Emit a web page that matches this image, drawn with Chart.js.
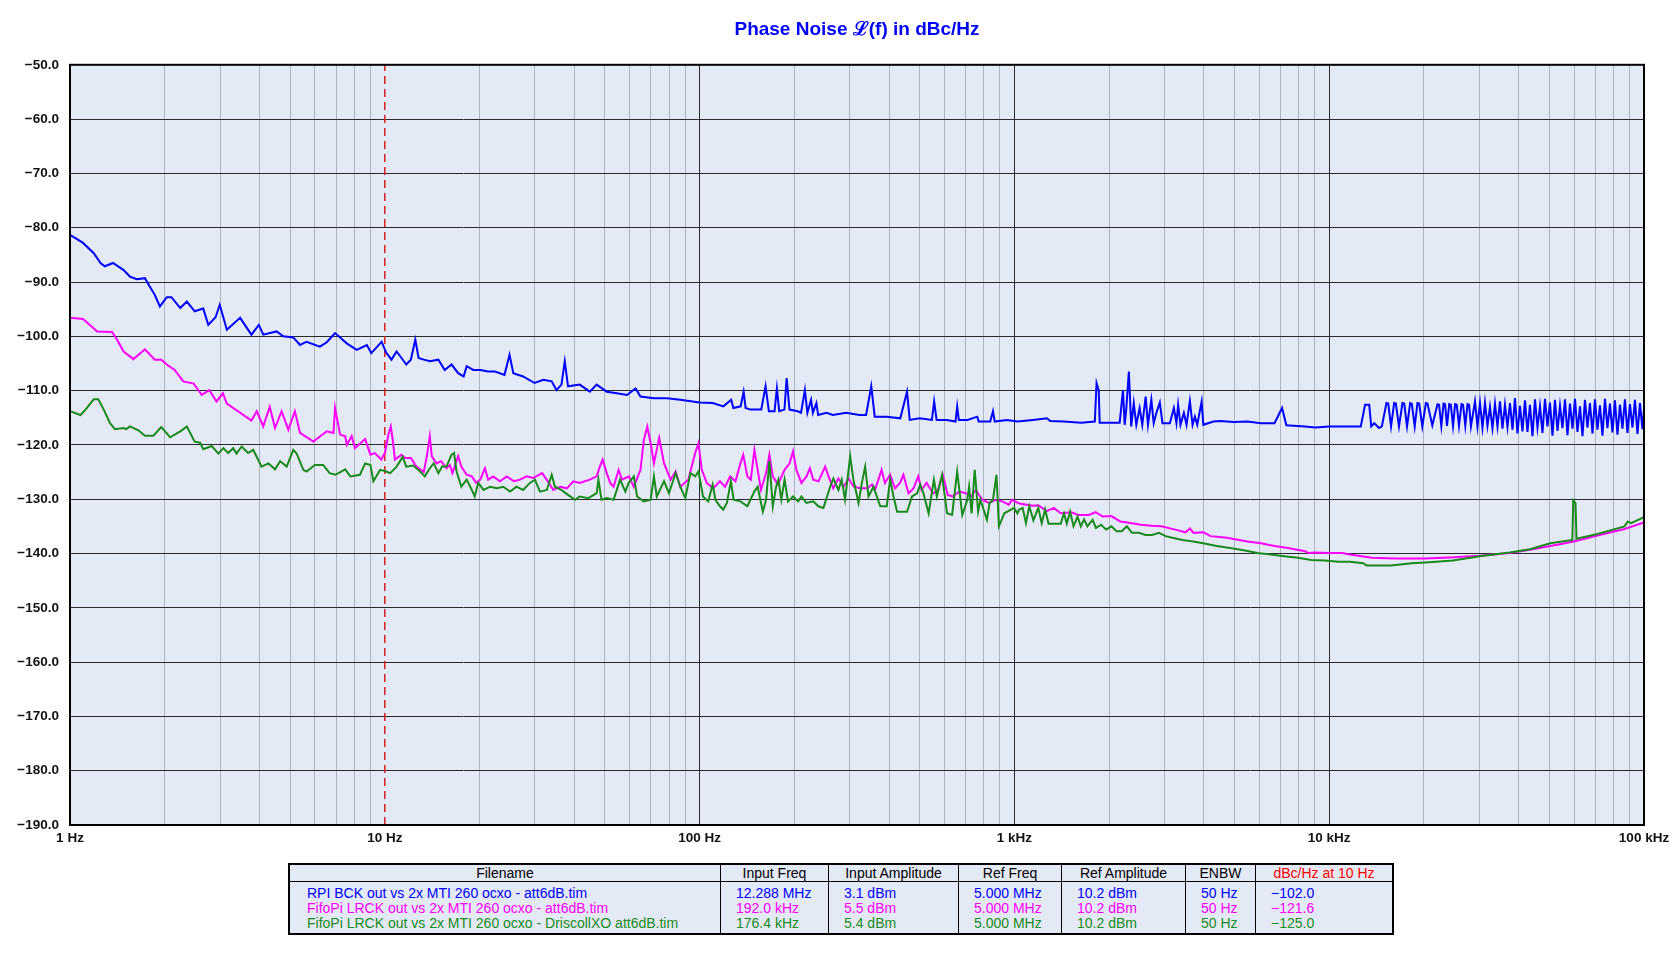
<!DOCTYPE html>
<html>
<head>
<meta charset="utf-8">
<title>Phase Noise</title>
<script src="https://cdn.jsdelivr.net/npm/chart.js@4.4.1/dist/chart.umd.min.js"></script>
<style>
  html, body { margin: 0; padding: 0; background: #fff; }
  #wrap { position: relative; width: 1680px; height: 967px; overflow: hidden; }
  #chart { position: absolute; left: 0; top: 0; }
  #tbl {
    position: absolute; left: 288px; top: 863px; width: 1102px;
    border: 2px solid #000; border-collapse: separate; border-spacing: 0;
    table-layout: fixed; background: rgb(228,233,246);
    font: 14px "Liberation Sans", Arial, sans-serif;
  }
  #tbl th { font-weight: normal; height: 16px; line-height: 16px; padding: 0; text-align: center;
            border-bottom: 1px solid #000; white-space: nowrap; }
  #tbl td { line-height: 15px; padding: 0 0 0 15px; white-space: nowrap; }
  #tbl th + th, #tbl td + td { border-left: 1px solid #000; }
  #tbl td:first-child { padding-left: 17px; }
  #tbl tr.first td { padding-top: 4px; }
  #tbl tr.last td { padding-bottom: 2px; }
</style>
</head>
<body>
<div id="wrap">
  <canvas id="chart" width="1680" height="967"></canvas>
  <table id="tbl"></table>
</div>
<script>
// ---- data (Hz, dBc/Hz) ----
var rpiFreq = [1,1.1,1.19,1.25,1.29,1.37,1.48,1.55,1.63,1.73,1.79,1.86,1.93,2.03,2.1,2.24,2.35,2.49,2.65,2.75,2.9,2.99,3.15,3.47,3.77,3.98,4.11,4.53,4.76,5.12,5.38,5.64,6.22,6.54,6.95,7.57,8.14,8.77,9.06,9.77,
  10.1,10.5,10.9,11.3,11.7,12.1,12.5,12.8,13.3,13.9,14.8,15.5,16.3,17.1,17.8,18.2,19.1,20.1,21.3,22.4,24,24.9,25.6,27.5,29.9,31.9,33.9,35.1,36.4,37.3,38.2,41.6,44.8,47.1,50.7,54.6,58.8,62.6,64.9,71.6,78.9,86.8,
  100,110,119,126,128,135,138,140,145,157,162,166,173,176,179,186,189,193,205,210,216,220,226,229,235,238,253,265,292,322,338,351,360,393,434,456,465,500,547,556,566,609,650,658,666,710,762,770,838,855,866,947,
  1022,1146,1268,1300,1437,1629,1801,1824,1853,1866,2160,2213,2240,2266,2310,2350,2394,2439,2499,2548,2612,2656,2723,2770,2826,2897,2954,3118,3210,3272,3312,3370,3454,3522,3609,3681,3744,3809,3934,3982,4287,4506,4978,5497,6070,6702,7083,7311,8373,9023,
  10020,11640,12600,13000,13400,13600,13900,14400,14700,15200,15400,15720,16080,16280,16660,17090,17310,17670,18080,18300,18690,19070,19310,19760,20280,20520,21260,
  22080,22340,22710,23080,23340,23670,24060,24340,24740,25120,25420,25840,26320,26620,27060,27500,27820,28200,
  29050,29580,30130,30680,31250,31830,32410,33010,33620,34240,34870,35510,36170,36840,37520,38210,38920,39640,40360,41110,41870,42640,43430,44230,45050,45880,46720,47590,48470,49360,
  50270,51200,52140,53110,54090,55080,56100,57140,58190,59260,60360,61470,62600,63760,64930,66130,67350,68600,69860,71150,72460,73790,75160,76540,77960,79390,80850,82350,83870,85420,86990,88600,90240,91900,93600,95330,97070,98880,100000];
var rpiVal = [-81.3,-82.8,-84.7,-86.5,-87.1,-86.5,-87.8,-89.0,-89.5,-89.3,-90.8,-92.4,-94.5,-92.8,-92.8,-94.8,-93.6,-95.4,-94.9,-97.9,-96.5,-94.2,-98.8,-96.6,-99.7,-97.9,-99.7,-99.1,-100.0,-100.2,-101.6,-101.0,-101.9,-101.1,-99.4,-101.3,-102.5,-101.6,-103.1,-101.0,
  -103.0,-104.3,-102.8,-104.0,-105.2,-104.3,-100.6,-104.0,-104.3,-104.6,-104.3,-106.2,-105.2,-106.8,-107.4,-105.5,-106.2,-106.2,-106.5,-106.5,-107.1,-103.4,-106.8,-107.4,-108.6,-108.0,-108.3,-109.9,-108.9,-104.6,-109.2,-108.9,-110.2,-108.9,-110.2,-110.5,-110.8,-109.6,-111.1,-111.4,-111.4,-111.7,
  -112.2,-112.3,-112.9,-111.7,-113.2,-112.9,-110.2,-113.2,-113.5,-113.5,-109.2,-113.8,-113.8,-109.6,-113.8,-113.5,-107.7,-113.5,-113.8,-114.1,-109.9,-114.1,-111.7,-114.1,-112.3,-114.5,-114.1,-114.5,-114.1,-114.5,-114.5,-109.2,-114.8,-114.8,-115.1,-110.2,-115.4,-115.1,-115.4,-112.0,-115.4,-115.4,-115.7,-112.9,-115.4,-115.4,-114.8,-115.7,-115.7,-113.8,-115.7,-115.4,
  -115.7,-115.4,-115.1,-115.6,-115.7,-115.9,-115.7,-108.6,-109.9,-115.9,-115.9,-109.9,-116.3,-113.5,-106.5,-116.6,-112.3,-116.3,-113.2,-116.3,-111.1,-116.3,-111.7,-116.0,-114.1,-112.2,-116.0,-116.0,-113.2,-116.0,-112.6,-116.3,-114.1,-116.3,-111.9,-116.3,-114.8,-116.3,-112.0,-116.3,-115.7,-115.6,-115.8,-115.7,-116.0,-116.0,-113.2,-116.4,-116.6,-116.8,
  -116.6,-116.6,-116.6,-112.6,-112.6,-116.6,-116.0,-116.9,-116.6,-112.3,-112.4,-116.6,-112.3,-112.4,-116.6,-112.3,-112.4,-116.6,-112.3,-112.4,-116.6,-112.3,-112.4,-116.6,-112.3,-112.4,-116.4,
  -112.5,-112.6,-116.5,-112.4,-112.5,-116.5,-112.5,-112.6,-116.5,-112.5,-112.6,-116.5,-112.5,-112.6,-116.5,-112.5,-112.6,-116.6,
  -112.0,-116.6,-112.3,-116.8,-112.2,-116.5,-113.0,-116.9,-112.4,-116.6,-112.0,-117.0,-112.6,-116.7,-112.3,-117.2,-111.4,-117.9,-112.8,-117.5,-111.8,-117.6,-112.6,-118.4,-111.6,-116.8,-112.9,-117.8,-111.5,-116.6,
  -112.2,-118.3,-111.7,-117.4,-112.8,-116.9,-111.6,-118.2,-112.4,-117.0,-111.5,-117.6,-112.9,-118.4,-111.7,-116.8,-112.3,-117.9,-111.6,-117.2,-112.7,-118.3,-111.5,-116.9,-112.4,-117.7,-111.8,-118.1,-112.6,-117.0,-111.6,-117.8,-112.5,-116.8,-111.7,-118.0,-112.3,-117.1,-113.5];

var lrckFreq = [1,1.1,1.22,1.36,1.41,1.48,1.59,1.73,1.86,1.95,2.03,2.15,2.29,2.47,2.62,2.77,2.92,3.06,3.15,3.77,3.92,4.11,4.31,4.48,4.7,4.94,5.18,5.38,5.93,6.54,6.87,6.95,7.21,7.49,7.57,7.85,8.04,8.66,9,9.3,9.75,
  10,10.27,10.45,10.6,10.77,11.3,11.6,12.1,12.6,13.3,13.6,13.9,14.1,14.6,15.1,15.7,16.1,16.4,17.1,17.5,18.2,18.9,19.5,20.1,20.8,21.3,22.1,23.2,24.4,25.7,26.9,28.2,29.6,31.6,32.7,34.3,36.1,37.9,39.7,41.6,44.8,47.1,48.2,49.2,
  50.7,52,53.3,55.3,56.7,59.6,61.8,64.9,66.5,68.2,69.9,71.6,74.4,77.1,80.9,83.9,86.8,92.1,96.8,99.2,101.6,105.4,110.5,116,120.5,125,130,134.8,137.6,141.8,145.4,149.3,152.9,156.7,162.6,166.6,170.8,177.3,186.2,193.2,198,
  203,210.6,218.6,224,229.6,238.6,250.5,256.8,265.8,276,286.6,297.6,309,324.5,340.5,353,360.7,378.5,388,403,417.5,433,444,461,478,495,507,526,552,572,592,614,637,668,701,728,754,791,830,871,915,960,983,
  1036,1146,1191,1268,1334,1404,1516,1595,1721,1812,1908,2034,2168,2340,2523,2724,2930,3244,3497,3610,3706,3993,4196,4732,5497,6070,6702,7400,8380,8590,9030,9970,
  10990,11640,13660,16170,20120,25000,30000,37500,43400,50400,59800,71200,86700,100000];
var lrckVal = [-96.6,-96.8,-99.1,-99.2,-100.6,-102.8,-104.2,-102.4,-104.3,-104.3,-105.2,-106.2,-108.3,-108.7,-110.8,-109.9,-112.0,-110.5,-112.4,-115.5,-113.8,-116.6,-113.0,-116.9,-113.8,-117.2,-113.8,-117.8,-119.4,-117.5,-117.8,-113.2,-118.1,-118.4,-120.0,-118.4,-120.6,-118.9,-121.8,-121.5,-122.7,
  -121.5,-118.1,-116.6,-119.1,-122.7,-121.8,-122.4,-122.4,-124.0,-125.0,-122.1,-118.4,-122.1,-123.4,-123.0,-124.3,-123.7,-125.2,-122.1,-124.0,-125.5,-125.8,-127.0,-126.4,-124.3,-126.4,-125.8,-126.7,-125.8,-126.7,-126.4,-125.8,-126.1,-125.2,-126.4,-128.3,-127.7,-128.0,-126.7,-127.0,-126.4,-125.8,-124.0,-122.7,
  -125.2,-127.0,-127.7,-124.6,-126.4,-125.8,-127.7,-124.6,-119.1,-116.6,-119.7,-123.4,-118.7,-123.4,-126.4,-124.9,-127.7,-126.4,-121.5,-119.7,-124.6,-127.0,-128.0,-126.7,-127.7,-125.8,-126.7,-123.4,-121.8,-125.8,-126.4,-120.9,-124.6,-128.3,-125.2,-121.8,-125.8,-127.3,-124.6,-123.4,-121.2,
  -124.6,-127.0,-125.8,-124.3,-126.4,-126.7,-124.0,-125.8,-128.0,-126.2,-127.7,-126.2,-127.7,-128.0,-128.0,-127.3,-128.3,-124.6,-127.0,-125.5,-128.0,-127.0,-125.5,-128.9,-128.0,-125.8,-128.3,-127.0,-128.9,-128.3,-125.5,-129.2,-129.5,-128.6,-128.9,-129.5,-128.3,-130.1,-130.7,-130.1,-130.4,-131.0,-130.1,
  -130.8,-131.2,-131.1,-132.2,-131.6,-132.6,-132.4,-132.9,-132.9,-132.4,-133.2,-133.1,-134.1,-134.4,-134.7,-134.9,-135.0,-135.6,-136.1,-135.4,-136.2,-136.1,-136.8,-137.1,-137.8,-138.1,-138.6,-139.0,-139.6,-139.9,-139.8,-139.9,
  -139.9,-140.2,-140.8,-140.9,-140.9,-140.7,-140.4,-139.9,-139.3,-138.6,-137.8,-136.7,-135.5,-134.3];

var xoFreq = [1,1.08,1.12,1.19,1.23,1.28,1.34,1.39,1.48,1.51,1.55,1.65,1.73,1.84,1.95,2.08,2.24,2.35,2.49,2.59,2.65,2.82,2.96,3.07,3.18,3.3,3.38,3.51,3.68,3.82,4.06,4.27,4.48,4.65,4.88,5.12,5.25,5.51,5.64,6,6.37,6.68,6.97,7.49,7.77,8.34,8.66,9,9.2,9.66,
  10,10.4,10.9,11.4,11.7,12.3,12.95,13.4,13.9,14.3,14.8,15.2,15.7,16.3,16.6,16.9,17.5,18.2,18.9,19.3,19.8,20.6,21.6,22.7,23.8,25,26.2,27.5,28.9,30,31.1,32.7,33.9,34.7,36.4,38.2,40.2,41.6,44.3,47.1,47.7,48.8,
  50.7,53.3,55.9,58.1,59.5,61.8,63.3,66.5,69.9,71.6,73.1,77.1,79.9,83.9,86.8,90.1,93.5,96.8,99.2,102.5,106.5,110,112.3,116,118.9,122.1,125.7,128.3,134.8,141.8,149.2,152.9,158.8,162.6,166.6,170.8,175,178,181.8,186.2,190.9,198.1,
  205.6,210.6,218.6,229.6,238.4,247.4,259.8,266,276,282.7,289.7,300.8,308,319.8,327.7,335.7,344,357,361,375,393,403,413,424,456,473,491,502,514,534,555,567,589,611,634,658,683,709,718,731,748,767,780,818,834,855,877,893,929,975,998,
  1022,1036,1062,1088,1115,1149,1191,1221,1252,1284,1404,1437,1467,1503,1541,1587,1625,1665,1706,1772,1815,1885,1957,2033,2111,2192,2276,2363,2487,2610,2739,2880,3023,3175,3423,3695,3977,4390,4846,5352,5906,6520,7199,7949,8776,9690,
  10700,11640,12820,13150,15710,18290,20820,24730,30030,37450,43440,50380,59200,59600,60600,61030,71200,86700,88800,90980,100000];
var xoVal = [-113.8,-114.5,-113.5,-111.6,-111.6,-113.5,-116.0,-117.1,-116.9,-117.1,-116.6,-117.3,-118.3,-118.3,-116.7,-118.6,-117.5,-116.6,-119.4,-119.6,-120.8,-120.2,-121.6,-120.6,-121.5,-120.6,-121.6,-120.3,-121.5,-120.9,-124.0,-123.4,-124.5,-123.0,-124.0,-120.9,-121.6,-124.6,-124.9,-123.7,-123.7,-125.2,-125.5,-124.5,-125.8,-125.5,-123.4,-123.7,-126.7,-124.6,
  -124.8,-125.2,-124.0,-122.2,-124.0,-123.8,-124.9,-125.8,-124.3,-123.4,-125.2,-124.0,-124.0,-121.8,-121.5,-124.9,-127.7,-126.4,-128.3,-129.5,-127.0,-128.3,-127.7,-128.0,-127.7,-128.6,-127.7,-128.3,-127.0,-126.4,-128.6,-128.3,-125.5,-127.7,-128.3,-129.2,-130.1,-129.5,-129.8,-128.9,-126.4,-130.1,
  -129.8,-130.1,-126.4,-128.6,-127.0,-125.8,-129.5,-130.4,-130.1,-125.8,-129.5,-126.7,-128.9,-125.2,-127.7,-129.8,-125.2,-125.8,-124.9,-129.5,-130.4,-127.3,-130.1,-131.3,-131.9,-130.7,-126.7,-130.1,-130.4,-131.3,-128.6,-127.7,-132.3,-130.1,-123.0,-131.3,-127.7,-126.4,-130.1,-126.4,-130.4,-129.5,
  -130.4,-129.5,-130.7,-130.4,-131.3,-131.6,-127.7,-126.2,-128.3,-126.4,-130.1,-122.1,-126.4,-130.7,-127.0,-124.0,-129.5,-127.7,-128.6,-131.3,-131.3,-126.4,-129.5,-132.3,-132.3,-129.5,-128.9,-127.3,-128.9,-132.6,-126.4,-129.5,-125.5,-132.6,-132.9,-124.9,-132.9,-130.1,-127.7,-132.6,-124.6,-132.3,-130.1,-133.8,-130.7,-130.1,-125.5,-135.0,-132.6,-131.9,-131.6,
  -132.6,-131.9,-131.6,-134.4,-131.3,-133.9,-131.6,-134.4,-131.9,-134.5,-134.5,-132.6,-134.5,-132.3,-135.0,-133.2,-135.0,-133.7,-135.0,-133.8,-135.3,-134.7,-135.6,-135.0,-135.9,-135.9,-135.0,-136.2,-136.2,-136.6,-136.6,-136.2,-136.8,-137.1,-137.5,-137.8,-138.1,-138.6,-139.0,-139.4,-139.9,-140.2,-140.5,-140.8,-141.2,-141.3,
  -141.5,-141.5,-141.8,-142.2,-142.2,-141.8,-141.6,-141.3,-140.5,-139.8,-139.2,-138.1,-137.5,-130.2,-130.7,-137.3,-136.4,-135.0,-134.1,-134.4,-133.3];

// 10 Hz marker
var markerFreq = [10, 10];
var markerVal = [-190, -50];

// ticks
var xTickValues = [1,2,3,4,5,6,7,8,9,10,20,30,40,50,60,70,80,90,100,200,300,400,500,600,700,800,900,
  1000,2000,3000,4000,5000,6000,7000,8000,9000,10000,20000,30000,40000,50000,60000,70000,80000,90000,100000];
var xDecades = [1, 10, 100, 1000, 10000, 100000];
var xDecadeLabels = ['1 Hz', '10 Hz', '100 Hz', '1 kHz', '10 kHz', '100 kHz'];
var yTickValues = [-190,-180,-170,-160,-150,-140,-130,-120,-110,-100,-90,-80,-70,-60,-50];
var yTickLabels = ['\u2212190.0','\u2212180.0','\u2212170.0','\u2212160.0','\u2212150.0','\u2212140.0','\u2212130.0','\u2212120.0',
  '\u2212110.0','\u2212100.0','\u221290.0','\u221280.0','\u221270.0','\u221260.0','\u221250.0'];

// table
var tableHeaders = ['Filename', 'Input Freq', 'Input Amplitude', 'Ref Freq', 'Ref Amplitude', 'ENBW', 'dBc/Hz at 10 Hz'];
var fileNames = ['RPI BCK out vs 2x MTI 260 ocxo - att6dB.tim',
                 'FifoPi LRCK out vs 2x MTI 260 ocxo - att6dB.tim',
                 'FifoPi LRCK out vs 2x MTI 260 ocxo - DriscollXO att6dB.tim'];
var inputFreqs = ['12.288 MHz', '192.0 kHz', '176.4 kHz'];
var inputAmps = ['3.1 dBm', '5.5 dBm', '5.4 dBm'];
var refFreqs = ['5.000 MHz', '5.000 MHz', '5.000 MHz'];
var refAmps = ['10.2 dBm', '10.2 dBm', '10.2 dBm'];
var enbws = ['50 Hz', '50 Hz', '50 Hz'];
var at10Hz = ['\u2212102.0', '\u2212121.6', '\u2212125.0'];

var seriesColors = ['#0000ff', '#ff00ff', '#1a8a1a'];
var colWidths = [430, 108, 130, 103, 124, 70, 137];

function toPoints(fs, vs) {
  var pts = [];
  for (var i = 0; i < fs.length; i++) pts.push({ x: fs[i], y: vs[i] });
  return pts;
}

// build the table
(function () {
  var tbl = document.getElementById('tbl');
  var html = '<colgroup>';
  colWidths.forEach(function (w) { html += '<col style="width:' + w + 'px">'; });
  html += '</colgroup><tr>';
  tableHeaders.forEach(function (h, i) {
    html += '<th' + (i === tableHeaders.length - 1 ? ' style="color:#ff0000"' : '') + '>' + h + '</th>';
  });
  html += '</tr>';
  for (var r = 0; r < fileNames.length; r++) {
    var cls = r === 0 ? 'first' : (r === fileNames.length - 1 ? 'last' : '');
    html += '<tr class="' + cls + '" style="color:' + seriesColors[r] + '">';
    [fileNames, inputFreqs, inputAmps, refFreqs, refAmps, enbws, at10Hz].forEach(function (col) {
      html += '<td>' + col[r] + '</td>';
    });
    html += '</tr>';
  }
  tbl.innerHTML = html;
})();

var plotFrame = {
  id: 'plotFrame',
  beforeDraw: function (chart) {
    var a = chart.chartArea, ctx = chart.ctx;
    ctx.save();
    ctx.fillStyle = 'rgb(228,233,246)';
    ctx.fillRect(a.left, a.top, a.right - a.left, a.bottom - a.top);
    ctx.restore();
  },
  afterDraw: function (chart) {
    var a = chart.chartArea, ctx = chart.ctx;
    ctx.save();
    ctx.strokeStyle = '#000';
    ctx.lineWidth = 2;
    ctx.strokeRect(a.left, a.top, a.right - a.left, a.bottom - a.top);
    ctx.restore();
  }
};

Chart.defaults.font.family = '"Liberation Sans", Arial, sans-serif';

var ctx = document.getElementById('chart').getContext('2d');
var myChart = new Chart(ctx, {
  type: 'line',
  data: {
    datasets: [
      { label: 'marker', data: toPoints(markerFreq, markerVal), borderColor: '#d42020', borderWidth: 1.5,
        borderDash: [8, 5], pointRadius: 0, order: 10 },
      { label: fileNames[0], data: toPoints(rpiFreq, rpiVal), borderColor: seriesColors[0], borderWidth: 2, pointRadius: 0, order: 3 },
      { label: fileNames[1], data: toPoints(lrckFreq, lrckVal), borderColor: seriesColors[1], borderWidth: 2, pointRadius: 0, order: 2 },
      { label: fileNames[2], data: toPoints(xoFreq, xoVal), borderColor: seriesColors[2], borderWidth: 2, pointRadius: 0, order: 1 }
    ]
  },
  options: {
    responsive: false,
    animation: false,
    layout: { padding: { left: 0, right: 36, top: 0, bottom: 102 } },
    elements: { line: { tension: 0, fill: false } },
    plugins: {
      legend: { display: false },
      tooltip: { enabled: false },
      title: {
        display: true,
        fullSize: false,
        text: 'Phase Noise \u2112(f) in dBc/Hz',
        color: '#0000ff',
        font: { size: 19, weight: 'bold' },
        padding: { top: 18, bottom: 24 }
      }
    },
    scales: {
      x: {
        type: 'logarithmic',
        min: 1,
        max: 100000,
        afterBuildTicks: function (scale) {
          scale.ticks = xTickValues.map(function (v) { return { value: v }; });
        },
        afterFit: function (scale) { scale.height = 40; },
        ticks: {
          autoSkip: false,
          maxRotation: 0,
          padding: 5,
          color: '#111',
          font: { size: 13.5, weight: 'bold' },
          callback: function (value) {
            var i = xDecades.indexOf(value);
            return i >= 0 ? xDecadeLabels[i] : '';
          }
        },
        grid: {
          drawTicks: false,
          lineWidth: 1,
          color: function (c) {
            var v = c.tick ? c.tick.value : 0;
            if (v === 10) return 'rgba(0,0,0,0)';
            return xDecades.indexOf(v) >= 0 ? '#2a2a2a' : '#aeb4c0';
          }
        },
        border: { display: false }
      },
      y: {
        type: 'linear',
        min: -190,
        max: -50,
        afterBuildTicks: function (scale) {
          scale.ticks = yTickValues.map(function (v) { return { value: v }; });
        },
        afterFit: function (scale) { scale.width = 70; },
        ticks: {
          padding: 11,
          color: '#111',
          font: { size: 13.5, weight: 'bold' },
          callback: function (value) {
            var i = yTickValues.indexOf(value);
            return i >= 0 ? yTickLabels[i] : '';
          }
        },
        grid: { drawTicks: false, color: '#2a2a2a', lineWidth: 1 },
        border: { display: false }
      }
    }
  },
  plugins: [plotFrame]
});
</script>
</body>
</html>
